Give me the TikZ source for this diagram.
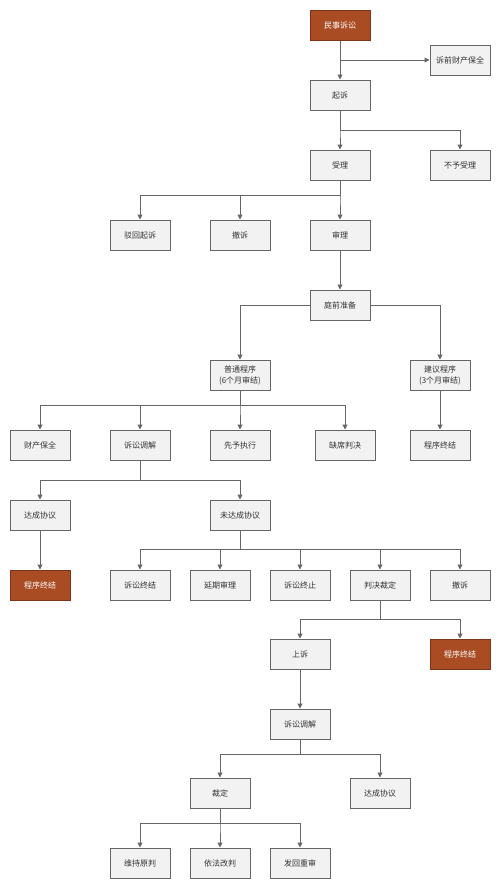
\documentclass[tikz,border=0pt]{standalone}
\usepackage{fontspec}
\setmainfont{Noto Sans CJK SC}
\usetikzlibrary{arrows.meta}
\definecolor{boxgray}{HTML}{F2F2F2}
\definecolor{linegray}{HTML}{666666}
\definecolor{textgray}{HTML}{333333}
\definecolor{rust}{HTML}{A94C24}
\definecolor{rustdark}{HTML}{7E3517}

\begin{document}
\begin{tikzpicture}[x=1pt, y=-1pt,
		box/.style={draw=linegray, fill=boxgray, line width=1pt, minimum width=60pt, minimum height=30pt, inner sep=1pt, text=textgray, font=\fontsize{8}{11}\selectfont, align=center},
		endbox/.style={box, draw=rustdark, fill=rust, text=white},
		arr/.style={draw=linegray, line width=1pt, -{Triangle[length=5pt, width=5pt]}}]
			
			\useasboundingbox[fill=white] (0,0) rectangle (500,889);
			
			% Start
			\node[endbox] (minshi) at (340,25) {民事诉讼};
			\node[box] (sqbq) at (460,60) {诉前财产保全};
			\node[box] (qisu) at (340,95) {起诉};
			\draw[arr] (minshi) -- (qisu);
			\draw[arr] (minshi.south) |- (sqbq.west);
			
			% Filing
			\node[box] (shouli) at (340,165) {受理};
			\node[box] (buyu) at (460,165) {不予受理};
			\draw[arr] (qisu.south) -- ++(0,20) -| (shouli.north);
			\draw[arr] (qisu.south) -- ++(0,20) -| (buyu.north);
			
			\node[box] (bohui) at (140,235) {驳回起诉};
			\node[box] (chesu1) at (240,235) {撤诉};
			\node[box] (shenli) at (340,235) {审理};
			\foreach \t in {bohui, chesu1, shenli}
				\draw[arr] (shouli.south) -- ++(0,15) -| (\t.north);
			
			% Pre-trial
			\node[box] (tqzb) at (340,305) {庭前准备};
			\draw[arr] (shenli) -- (tqzb);
			\node[box] (putong) at (240,375) {普通程序\\(6个月审结)};
			\node[box] (jianyi) at (440,375) {建议程序\\(3个月审结)};
			\draw[arr] (tqzb.west) -| (putong.north);
			\draw[arr] (tqzb.east) -| (jianyi.north);
			
			% Ordinary procedure
			\node[box] (ccbq) at (40,445) {财产保全};
			\node[box] (tiaojie1) at (140,445) {诉讼调解};
			\node[box] (xianyu) at (240,445) {先予执行};
			\node[box] (quexi) at (345,445) {缺席判决};
			\node[box] (zhongjie1) at (440,445) {程序终结};
			\foreach \t in {ccbq, tiaojie1, xianyu, quexi}
				\draw[arr] (putong.south) -- ++(0,15) -| (\t.north);
			\draw[arr] (jianyi) -- (zhongjie1);
			
			% Mediation
			\node[box] (dacheng1) at (40,515) {达成协议};
			\node[box] (weidacheng) at (240,515) {未达成协议};
			\draw[arr] (tiaojie1.south) -- ++(0,20) -| (dacheng1.north);
			\draw[arr] (tiaojie1.south) -- ++(0,20) -| (weidacheng.north);
			\node[endbox] (zhongjie2) at (40,585) {程序终结};
			\draw[arr] (dacheng1) -- (zhongjie2);
			
			\node[box] (susongzj) at (140,585) {诉讼终结};
			\node[box] (yanqi) at (220,585) {延期审理};
			\node[box] (susongzz) at (300,585) {诉讼终止};
			\node[box] (panjue) at (380,585) {判决裁定};
			\node[box] (chesu2) at (460,585) {撤诉};
			\foreach \t in {susongzj, yanqi, susongzz, panjue, chesu2}
				\draw[arr] (weidacheng.south) -- ++(0,19) -| (\t.north);
			
			% Appeal
			\node[box] (shangsu) at (300,654) {上诉};
			\node[endbox] (zhongjie3) at (460,654) {程序终结};
			\draw[arr] (panjue.south) -- ++(0,19) -| (shangsu.north);
			\draw[arr] (panjue.south) -- ++(0,19) -| (zhongjie3.north);
			
			\node[box] (tiaojie2) at (300,724) {诉讼调解};
			\draw[arr] (shangsu) -- (tiaojie2);
			\node[box] (caiding) at (220,793) {裁定};
			\node[box] (dacheng2) at (380,793) {达成协议};
			\draw[arr] (tiaojie2.south) -- ++(0,15) -| (caiding.north);
			\draw[arr] (tiaojie2.south) -- ++(0,15) -| (dacheng2.north);
			
			% Ruling
			\node[box] (weichi) at (140,863) {维持原判};
			\node[box] (gaipan) at (220,863) {依法改判};
			\node[box] (fahui) at (300,863) {发回重审};
			\foreach \t in {weichi, gaipan, fahui}
				\draw[arr] (caiding.south) -- ++(0,15) -| (\t.north);
			
		\end{tikzpicture}
\end{document}
